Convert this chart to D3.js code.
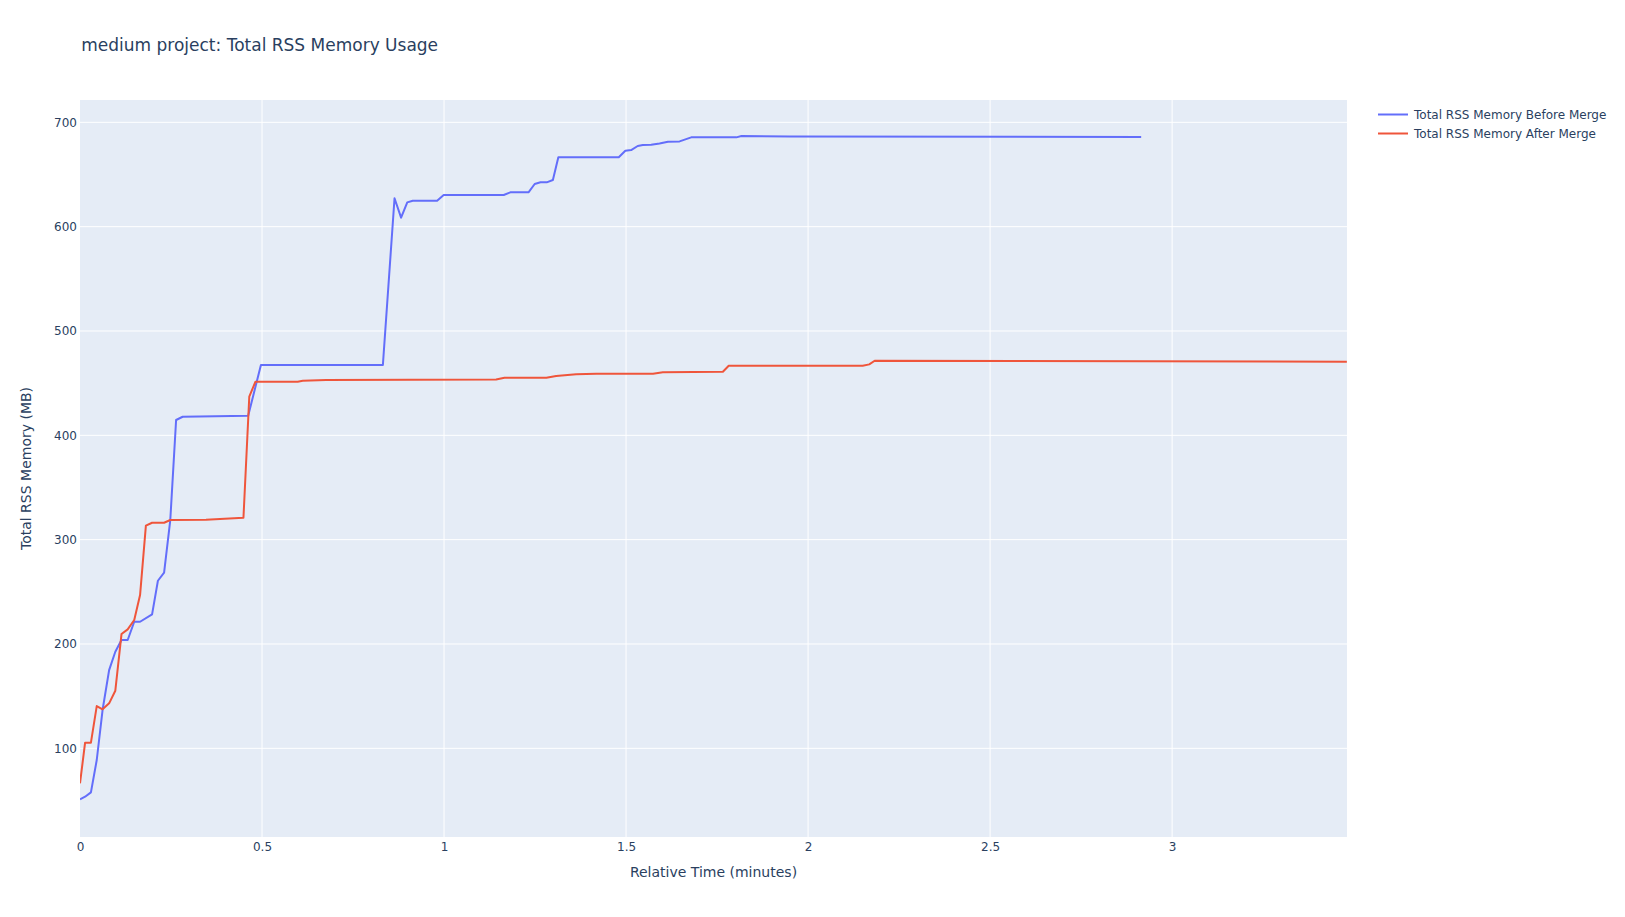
<!DOCTYPE html>
<html>
<head>
<meta charset="utf-8">
<script src="https://cdn.jsdelivr.net/npm/d3@7"></script>
<style>
  html, body { margin: 0; padding: 0; background: #fff; }
  svg { display: block; }
  text { font-family: "DejaVu Sans", verdana, arial, sans-serif; fill: #2a3f5f; }
</style>
</head>
<body>
<svg id="chart" width="1625" height="917"></svg>
<script>
// ---- Data ----
const beforeTime = [0, 0.014, 0.030, 0.046, 0.062, 0.080, 0.097, 0.114, 0.131, 0.149, 0.165, 0.198, 0.214, 0.231, 0.248, 0.264, 0.282, 0.462, 0.497, 0.832, 0.864, 0.882, 0.899, 0.914, 0.981, 0.999, 1.164, 1.182, 1.232, 1.249, 1.265, 1.282, 1.299, 1.314, 1.480, 1.498, 1.514, 1.532, 1.546, 1.569, 1.592, 1.615, 1.647, 1.679, 1.803, 1.817, 1.950, 2.915];
const beforeMem  = [51.1, 53.6, 57.8, 88.8, 136.7, 175, 192.6, 203.8, 203.8, 221.3, 221.3, 228.4, 260.6, 268.3, 318.8, 414.7, 417.8, 418.8, 467.4, 467.4, 627.2, 608.6, 623.3, 624.9, 624.9, 630.3, 630.3, 632.9, 632.9, 640.9, 642.5, 642.5, 644.7, 666.5, 666.5, 672.8, 673.4, 677.3, 678.2, 678.5, 679.8, 681.4, 681.7, 685.6, 685.6, 686.9, 686.5, 686.0];

const afterTime = [0, 0.014, 0.030, 0.046, 0.062, 0.080, 0.097, 0.114, 0.131, 0.149, 0.165, 0.181, 0.198, 0.231, 0.248, 0.346, 0.449, 0.465, 0.482, 0.598, 0.612, 0.676, 1.143, 1.166, 1.281, 1.308, 1.363, 1.418, 1.574, 1.601, 1.766, 1.782, 2.150, 2.168, 2.183, 3.480];
const afterMem  = [66.4, 105.4, 105.4, 140.5, 137.4, 143.1, 155.2, 209.5, 214, 223, 246.9, 313.4, 316.2, 316.2, 318.8, 319, 321, 437, 451.4, 451.4, 452.3, 453, 453.6, 455.2, 455.2, 456.8, 458.5, 459, 459, 460.4, 461, 466.7, 466.7, 468, 471.5, 470.5];

const seriesNames = ["Total RSS Memory Before Merge", "Total RSS Memory After Merge"];
const seriesColors = ["#636efa", "#EF553B"];
const xTicks = [0, 0.5, 1, 1.5, 2, 2.5, 3];
const xTickLabels = ["0", "0.5", "1", "1.5", "2", "2.5", "3"];
const yTicks = [100, 200, 300, 400, 500, 600, 700];
const xDomain = [0, 3.4804];
const yDomain = [15, 721.4];

// ---- Layout ----
const svg = d3.select("#chart");
const L = 80, R = 1347, T = 100, B = 837;

const x = d3.scaleLinear().domain(xDomain).range([L, R]);
const y = d3.scaleLinear().domain(yDomain).range([B, T]);

svg.append("rect").attr("x", L).attr("y", T).attr("width", R - L).attr("height", B - T).attr("fill", "#E5ECF6");

// grid lines
svg.append("g").selectAll("line").data(xTicks.filter(d => d > 0)).join("line")
  .attr("x1", d => x(d)).attr("x2", d => x(d)).attr("y1", T).attr("y2", B)
  .attr("stroke", "#fff").attr("stroke-width", 1);
svg.append("g").selectAll("line").data(yTicks).join("line")
  .attr("x1", L).attr("x2", R).attr("y1", d => y(d)).attr("y2", d => y(d))
  .attr("stroke", "#fff").attr("stroke-width", 1);

// axes (labels only, via d3 axes)
const xAxis = d3.axisBottom(x).tickValues(xTicks).tickFormat((d, i) => xTickLabels[i]).tickSize(0).tickPadding(6);
const gx = svg.append("g").attr("transform", `translate(0,${B})`).call(xAxis);
gx.select(".domain").remove();
gx.selectAll("text").attr("font-size", 12).attr("font-family", null).attr("fill", "#2a3f5f").attr("dy", "0.71em").attr("y", 5);

const yAxis = d3.axisLeft(y).tickValues(yTicks).tickFormat(d3.format("d")).tickSize(0).tickPadding(3);
const gy = svg.append("g").attr("transform", `translate(${L},0)`).call(yAxis);
gy.select(".domain").remove();
gy.selectAll("text").attr("font-size", 12).attr("font-family", null).attr("fill", "#2a3f5f");

// clip
svg.append("clipPath").attr("id", "clip").append("rect")
  .attr("x", L).attr("y", T).attr("width", R - L).attr("height", B - T);

const line = d3.line().x(d => x(d[0])).y(d => y(d[1]));
const series = [
  d3.zip(beforeTime, beforeMem),
  d3.zip(afterTime, afterMem)
];
svg.append("g").attr("clip-path", "url(#clip)").selectAll("path").data(series).join("path")
  .attr("d", line)
  .attr("fill", "none")
  .attr("stroke", (d, i) => seriesColors[i])
  .attr("stroke-width", 2)
  .attr("stroke-linejoin", "round");

// title
svg.append("text").attr("x", 81.25).attr("y", 50.5).attr("font-size", 17).text("medium project: Total RSS Memory Usage");

// axis titles
svg.append("text").attr("x", (L + R) / 2).attr("y", 877).attr("text-anchor", "middle").attr("font-size", 14)
  .text("Relative Time (minutes)");
svg.append("text").attr("transform", `translate(31,${(T + B) / 2}) rotate(-90)`).attr("text-anchor", "middle").attr("font-size", 14)
  .text("Total RSS Memory (MB)");

// legend
const lg = svg.append("g").selectAll("g").data(seriesNames).join("g")
  .attr("transform", (d, i) => `translate(1378,${114.5 + i * 19})`);
lg.append("line").attr("x1", 0).attr("x2", 30).attr("y1", 0).attr("y2", 0)
  .attr("stroke", (d, i) => seriesColors[i]).attr("stroke-width", 2);
lg.append("text").attr("x", 36).attr("y", 0).attr("dy", "0.35em").attr("font-size", 12).text(d => d);
</script>
</body>
</html>
